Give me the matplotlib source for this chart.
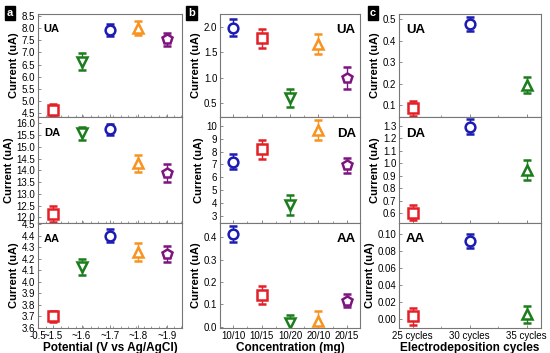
import matplotlib
matplotlib.use("Agg")
import matplotlib.pyplot as plt
from matplotlib.ticker import AutoMinorLocator, MultipleLocator

plt.rcParams['font.family'] = ['Liberation Sans', 'DejaVu Sans']

# ---- data ----
pot_labels = ["~1.5", "~1.6", "~1.7", "~1.8", "~1.9"]
a_colors = ["#e41f26", "#1b7d1b", "#1c1cb4", "#f7931e", "#7d1480"]
a_markers = ["s", "v", "o", "^", "p"]
a_UA = [4.64, 6.62, 7.91, 8.00, 7.53]
a_UA_err = [0.26, 0.35, 0.26, 0.30, 0.28]
a_DA = [12.14, 15.57, 15.74, 14.30, 13.90]
a_DA_err = [0.33, 0.29, 0.25, 0.35, 0.39]
a_AA = [3.70, 4.13, 4.40, 4.26, 4.24]
a_AA_err = [0.05, 0.07, 0.055, 0.08, 0.07]

conc_labels = ["10/10", "10/15", "10/20", "20/10", "20/15"]
b_colors = ["#1c1cb4", "#e41f26", "#1b7d1b", "#f7931e", "#7d1480"]
b_markers = ["o", "s", "v", "^", "p"]
b_UA = [1.98, 1.77, 0.60, 1.66, 1.00]
b_UA_err = [0.17, 0.19, 0.18, 0.20, 0.22]
b_DA = [7.22, 8.20, 3.86, 9.69, 6.93]
b_DA_err = [0.61, 0.74, 0.78, 0.78, 0.61]
b_AA = [0.415, 0.142, 0.018, 0.027, 0.117]
b_AA_err = [0.035, 0.039, 0.032, 0.045, 0.031]

cyc_labels = ["25 cycles", "30 cycles", "35 cycles"]
c_colors = ["#e41f26", "#1c1cb4", "#1b7d1b"]
c_markers = ["s", "o", "^"]
c_UA = [0.085, 0.478, 0.193]
c_UA_err = [0.035, 0.033, 0.039]
c_DA = [0.605, 1.295, 0.947]
c_DA_err = [0.061, 0.060, 0.077]
c_AA = [0.004, 0.092, 0.006]
c_AA_err = [0.010, 0.008, 0.010]

W, H = 550, 353
fig = plt.figure(figsize=(W / 100, H / 100), dpi=100)

rows_px = [(14, 117), (117, 223), (223, 328)]
cols_px = [(38, 182), (220, 360), (399, 541)]


def make_ax(col, row):
    x0, x1 = cols_px[col]
    y0, y1 = rows_px[row]
    return fig.add_axes([x0 / W, 1 - y1 / H, (x1 - x0) / W, (y1 - y0) / H])


def style(ax):
    for s in ax.spines.values():
        s.set_color("#777777")
        s.set_linewidth(0.8)
    ax.tick_params(axis='both', direction='in', labelsize=7, length=2.5,
                   width=0.6, color="#777777", pad=2)
    ax.tick_params(axis='x', which='minor', direction='in', length=1.5,
                   width=0.5, color="#777777")


def plot_points(ax, vals, errs, colors, markers):
    for i, (v, e, c, m) in enumerate(zip(vals, errs, colors, markers)):
        ax.errorbar(i + 1, v, yerr=e, fmt=m, color=c, mfc='white', mec=c,
                    mew=1.8, ms=7, ecolor=c, elinewidth=1,
                    capsize=3, capthick=1)


panels = [
    (0, [a_UA, a_DA, a_AA], [a_UA_err, a_DA_err, a_AA_err], a_colors, a_markers,
     pot_labels, "Potential (V vs Ag/AgCl)",
     [(4.35, 8.57), (11.76, 16.27), (3.6, 4.51)], [0.5, 0.5, 0.1], (0.47, 5.53), 'left'),
    (1, [b_UA, b_DA, b_AA], [b_UA_err, b_DA_err, b_AA_err], b_colors, b_markers,
     conc_labels, "Concentration (mg)",
     [(0.23, 2.25), (2.43, 10.7), (-0.006, 0.464)], [0.5, 1, 0.1], (0.53, 5.47), 'right'),
    (2, [c_UA, c_DA, c_AA], [c_UA_err, c_DA_err, c_AA_err], c_colors, c_markers,
     cyc_labels, "Electrodeposition cycles",
     [(0.044, 0.525), (0.522, 1.372), (-0.010, 0.113)], [0.1, 0.1, 0.02], (0.76, 3.25), 'left'),
]
names = ["UA", "DA", "AA"]

for col, vals_l, errs_l, colors, markers, xlabels, xlabel, ylims, steps, xlim, lab_side in panels:
    for row in range(3):
        ax = make_ax(col, row)
        plot_points(ax, vals_l[row], errs_l[row], colors, markers)
        ax.set_xlim(*xlim)
        ax.set_ylim(*ylims[row])
        ax.yaxis.set_major_locator(MultipleLocator(steps[row]))
        if col == 2 and row == 2:
            ax.yaxis.set_major_formatter(plt.FormatStrFormatter('%.2f'))
        elif col == 1 and row == 1:
            ax.yaxis.set_major_formatter(plt.FormatStrFormatter('%d'))
        else:
            ax.yaxis.set_major_formatter(plt.FormatStrFormatter('%.1f'))
        n = len(xlabels)
        if col == 0:
            ax.set_xticks([xlim[0]] + list(range(1, n + 1)))
        else:
            ax.set_xticks(range(1, n + 1))
        ax.xaxis.set_minor_locator(AutoMinorLocator(2))
        style(ax)
        if row < 2:
            ax.set_xticklabels([])
        else:
            if col == 0:
                ax.set_xticklabels(["-0.5"] + xlabels)
            else:
                ax.set_xticklabels(xlabels)
            ax.set_xlabel(xlabel, fontsize=8.5, fontweight='bold', labelpad=1)
        ax.set_ylabel("Current (uA)", fontsize=8, fontweight='bold', labelpad=2)
        if lab_side == 'left':
            ax.text(0.04 if col == 0 else 0.05, 0.9, names[row], transform=ax.transAxes,
                    fontsize=8 if col == 0 else 9.5, fontweight='bold', va='top', ha='left')
        else:
            ax.text(0.97, 0.9, names[row], transform=ax.transAxes,
                    fontsize=9.5, fontweight='bold', va='top', ha='right')

# panel letters
for letter, x in [("a", 7), ("b", 188), ("c", 370)]:
    fig.text(x / W, 1 - 13 / H, letter, color='white', fontsize=8, fontweight='bold',
             ha='left', va='center',
             bbox=dict(boxstyle='square,pad=0.2', fc='black', ec='black'))

fig.savefig("out.png", dpi=100)
